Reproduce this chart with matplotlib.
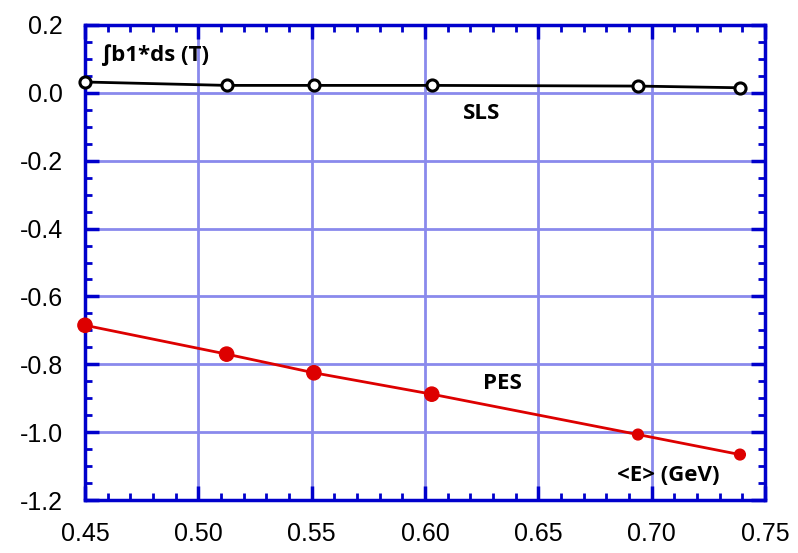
import matplotlib.pyplot as plt
from matplotlib.ticker import MultipleLocator

energy = [0.450, 0.5125, 0.551, 0.603, 0.694, 0.739]
sls = [0.032, 0.022, 0.022, 0.022, 0.020, 0.015]
pes = [-0.685, -0.770, -0.825, -0.888, -1.007, -1.066]

blue = '#0000cc'
grid_blue = '#8a8aec'

fig = plt.figure(figsize=(7.98, 5.53), dpi=100)
ax = fig.add_axes([0.1065, 0.0958, 0.852, 0.859])

ax.set_xlim(0.45, 0.75)
ax.set_ylim(-1.2, 0.2)
ax.xaxis.set_major_locator(MultipleLocator(0.05))
ax.xaxis.set_minor_locator(MultipleLocator(0.01))
ax.yaxis.set_major_locator(MultipleLocator(0.2))
ax.yaxis.set_minor_locator(MultipleLocator(0.05))
ax.grid(True, which='major', color=grid_blue, linewidth=2.0)
ax.set_axisbelow(True)

for s in ax.spines.values():
    s.set_color(blue)
    s.set_linewidth(2.5)
ax.tick_params(which='both', direction='in', color=blue, top=True, right=True,
               labeltop=False, labelright=False)
ax.tick_params(which='major', length=10, width=2.5, pad=16,
               labelsize=18, labelfontfamily='Liberation Sans')
ax.tick_params(which='minor', length=5, width=2)
ax.xaxis.set_major_formatter(plt.FuncFormatter(lambda v, p: f'{v:.2f}'))
ax.yaxis.set_major_formatter(plt.FuncFormatter(lambda v, p: f'{v:.1f}'))

ax.plot(energy, sls, color='black', linewidth=2, marker='o', markersize=8,
        markerfacecolor='white', markeredgewidth=2.2, clip_on=False, zorder=3)
ax.plot(energy, pes, color='#dd0000', linewidth=2, zorder=3)
ax.scatter(energy, pes, s=[105, 105, 105, 105, 60, 60], color='#dd0000',
           clip_on=False, zorder=4)

font = ['Open Sans', 'DejaVu Sans']
ax.text(0.4575, 0.111, '∫b1*ds (T)', fontsize=16, fontweight='bold', family=font,
        va='center', ha='left')
ax.text(0.6167, -0.06, 'SLS', fontsize=16, fontweight='bold', family=font,
        va='center', ha='left')
ax.text(0.6256, -0.856, 'PES', fontsize=16, fontweight='bold', family=font,
        va='center', ha='left')
ax.text(0.6847, -1.127, '<E> (GeV)', fontsize=16, fontweight='bold', family=font,
        va='center', ha='left')

plt.savefig('out.png', dpi=100)
